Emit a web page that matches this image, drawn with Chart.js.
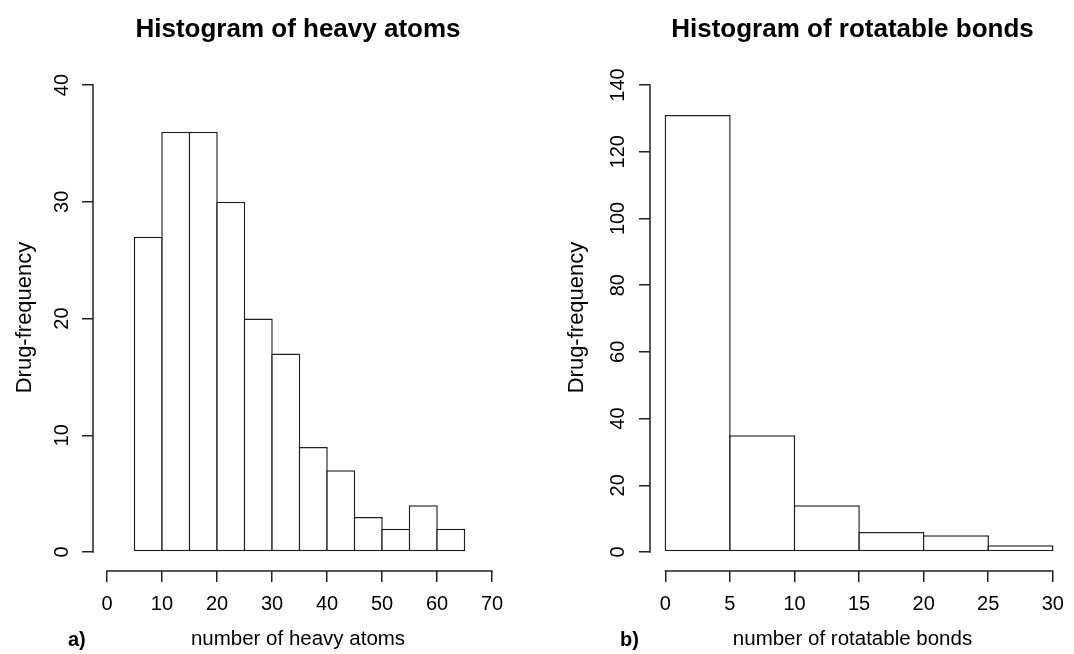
<!DOCTYPE html>
<html>
<head>
<meta charset="utf-8">
<script src="https://cdn.jsdelivr.net/npm/chart.js@4"></script>
<style>
body{margin:0;background:#fff;width:1074px;height:654px;overflow:hidden;position:relative;font-family:"Liberation Sans",Arial,sans-serif;}
canvas{position:absolute;top:0;}
.lbl{position:absolute;top:629px;font-weight:bold;font-size:20px;line-height:20px;color:#000;}
</style>
</head>
<body>
<canvas id="grafA" width="537" height="654" style="left:0"></canvas>
<canvas id="grafB" width="537" height="654" style="left:537px"></canvas>
<span class="lbl" style="left:68px">a)</span>
<span class="lbl" style="left:620px">b)</span>
<script>
// histogram 1 - heavy atoms (bin width 5)
var heavyEdges=[5,10,15,20,25,30,35,40,45,50,55,60,65];
var heavyCounts=[27,36,36,30,20,17,9,7,3,2,4,2];
var heavyTicksX=[0,10,20,30,40,50,60,70];
var heavyTicksY=[0,10,20,30,40];

// histogram 2 - rotatable bonds
var bondEdges=[0,5,10,15,20,25,30];
var bondCounts=[131,35,14,6,5,2];
var bondTicksX=[0,5,10,15,20,25,30];
var bondTicksY=[0,20,40,60,80,100,120,140];

Chart.defaults.font.family='"Liberation Sans", Arial, sans-serif';
Chart.defaults.color='#000';

var cor='#222';
var lw=1.5;

// R-style axis lines: only from first to last tick
var eixos={
    id:'eixos',
    afterDraw:function(chart){
        var ctx=chart.ctx;
        var x=chart.scales.x, y=chart.scales.y;
        var tx=x.ticks, ty=y.ticks;
        var ca=chart.chartArea;
        ctx.save();
        ctx.strokeStyle=cor;
        ctx.lineWidth=lw;
        ctx.lineCap='square';
        ctx.beginPath();
        ctx.moveTo(ca.left,y.getPixelForValue(ty[0].value));
        ctx.lineTo(ca.left,y.getPixelForValue(ty[ty.length-1].value));
        ctx.moveTo(x.getPixelForValue(tx[0].value),ca.bottom);
        ctx.lineTo(x.getPixelForValue(tx[tx.length-1].value),ca.bottom);
        ctx.stroke();
        ctx.restore();
    }
};

function histograma(id,p){
    var pontos=[];
    for(var i=0;i<p.counts.length;i++){
        pontos.push({x:(p.edges[i]+p.edges[i+1])/2,y:p.counts[i]});
    }
    var dados={
        datasets:[{
            label:p.titulo,
            data:pontos,
            backgroundColor:'#fff',
            borderColor:cor,
            borderWidth:lw,
            borderSkipped:false,
            barPercentage:p.barPct,
            categoryPercentage:1
        }]
    };
    var config={
        type:'bar',
        data:dados,
        plugins:[eixos],
        options:{
            responsive:false,
            animation:false,
            layout:{padding:{left:0,right:p.padRight,top:0,bottom:0}},
            plugins:{
                legend:{display:false},
                tooltip:{enabled:false},
                title:{
                    display:true,
                    text:p.titulo,
                    fullSize:false,
                    color:'#000',
                    font:{size:26,weight:'bold'},
                    padding:{top:14.5,bottom:18.3}
                }
            },
            scales:{
                x:{
                    type:'linear',
                    offset:false,
                    bounds:'data',
                    min:p.xMin,
                    max:p.xMax,
                    afterBuildTicks:function(s){s.ticks=p.ticksX.map(function(v){return {value:v};});},
                    afterFit:function(s){s.height=83;},
                    grid:{display:true,offset:false,drawOnChartArea:false,drawTicks:true,tickLength:11,color:cor,lineWidth:lw},
                    border:{display:false},
                    ticks:{autoSkip:false,maxRotation:0,minRotation:0,padding:10,font:{size:20}},
                    title:{display:true,text:p.xTitulo,font:{size:20.5,lineHeight:1},padding:{top:0,bottom:4}}
                },
                y:{
                    type:'linear',
                    bounds:'data',
                    min:p.yMin,
                    max:p.yMax,
                    afterBuildTicks:function(s){s.ticks=p.ticksY.map(function(v){return {value:v};});},
                    afterFit:function(s){s.width=p.yWidth;},
                    grid:{display:true,drawOnChartArea:false,drawTicks:true,tickLength:11,color:cor,lineWidth:lw},
                    border:{display:false},
                    ticks:{autoSkip:false,minRotation:90,maxRotation:90,crossAlign:'center',padding:p.yPad,font:{size:20}},
                    title:{display:true,text:'Drug-frequency',font:{size:22},padding:{top:p.yTitPad,bottom:0}}
                }
            }
        }
    };
    var ctx=document.getElementById(id).getContext('2d');
    return new Chart(ctx,config);
}

var g1=histograma('grafA',{
    titulo:'Histogram of heavy atoms',
    xTitulo:'number of heavy atoms',
    edges:heavyEdges,counts:heavyCounts,
    ticksX:heavyTicksX,ticksY:heavyTicksY,
    xMin:-2.545,xMax:72,yMin:-1.627,yMax:41.8,
    yWidth:93,padRight:34,yPad:7.9,yTitPad:11.4,
    barPct:(27.5+lw)/27.5
});
var g2=histograma('grafB',{
    titulo:'Histogram of rotatable bonds',
    xTitulo:'number of rotatable bonds',
    edges:bondEdges,counts:bondCounts,
    ticksX:bondTicksX,ticksY:bondTicksY,
    xMin:-1.19,xMax:30.17,yMin:-5.696,yMax:146.3,
    yWidth:113,padRight:10,yPad:3.6,yTitPad:26.8,
    barPct:(66+lw)/66
});
</script>
</body>
</html>
